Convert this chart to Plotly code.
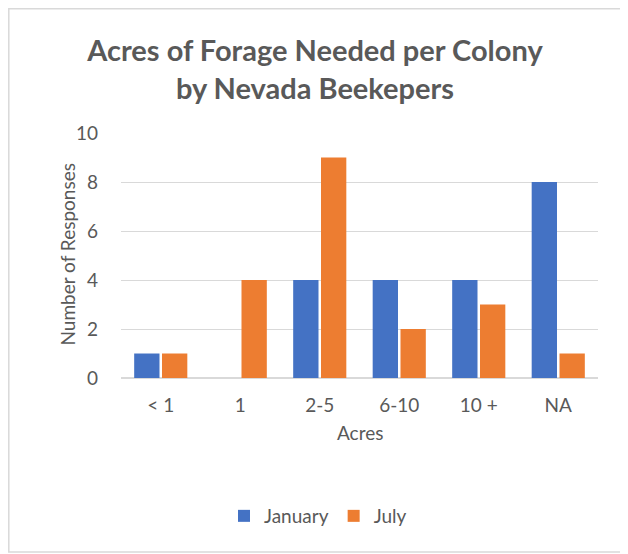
import plotly.graph_objects as go

categories = ["< 1", "1", "2-5", "6-10", "10 +", "NA"]
january = [1, 0, 4, 4, 4, 8]
july = [1, 4, 9, 2, 3, 1]
y_ticks = [0, 2, 4, 6, 8, 10]

FONT = "Lato"
GRAY = "#595959"

# page is shown with an 8px body margin; work in reference page coords
OFF = 8
W, H = 628 - OFF, 554 - OFF
L = 121 - OFF
T = 133 - OFF
R = W - (598 - OFF)
B = H - (378 - OFF)
pw, ph = W - L - R, H - T - B

def px(x):
    return (x - OFF - L) / pw

def py(y):
    return (H - B - (y - OFF)) / ph

fig = go.Figure()
fig.add_trace(go.Bar(name="January", x=categories, y=january,
                     marker=dict(color="#4472C4", line=dict(width=0))))
fig.add_trace(go.Bar(name="July", x=categories, y=july,
                     marker=dict(color="#ED7D31", line=dict(width=0))))

fig.update_layout(
    width=W, height=H,
    margin=dict(l=L, r=R, t=T, b=B, autoexpand=False),
    paper_bgcolor="white", plot_bgcolor="white",
    font=dict(family=FONT, color=GRAY, size=19),
    barmode="group", bargap=0.3, bargroupgap=0.09,
    title=dict(text="<b>Acres of Forage Needed per Colony<br>by Nevada Beekepers</b>",
               x=(315 - OFF) / W, xref="container", xanchor="center",
               y=1 - (61 - OFF) / H, yref="container", yanchor="middle",
               font=dict(family=FONT, size=29, color=GRAY)),
    showlegend=True,
    legend=dict(orientation="h", x=(318 - OFF) / W, xanchor="center", xref="container",
                y=py(516), yanchor="middle",
                font=dict(family=FONT, size=19, color=GRAY),
                itemwidth=30, tracegroupgap=0),
    xaxis=dict(showgrid=False, showline=False, zeroline=False,
               tickfont=dict(family=FONT, size=19, color=GRAY),
               ticks="", ticklabelstandoff=14),
    yaxis=dict(range=[0, 10], tickvals=y_ticks, showgrid=True,
               gridcolor="#D9D9D9", gridwidth=1.3, zeroline=True,
               zerolinecolor="#D9D9D9", zerolinewidth=2, showline=False,
               tickfont=dict(family=FONT, size=19, color=GRAY),
               ticks="", ticklabelstandoff=22),
)

fig.add_annotation(text="Acres", xref="paper", yref="paper",
                   x=px(360), y=py(446), showarrow=False,
                   font=dict(family=FONT, size=19, color=GRAY))
fig.add_annotation(text="Number of Responses", xref="paper", yref="paper",
                   x=px(53), y=py(255), showarrow=False, textangle=-90,
                   font=dict(family=FONT, size=19, color=GRAY))

fig.add_shape(type="rect", xref="paper", yref="paper",
              x0=px(OFF + 0.8), x1=px(625), y0=py(552), y1=py(OFF + 0.8),
              line=dict(color="#D9D9D9", width=1.5), layer="below")

fig.write_html("out.html")
